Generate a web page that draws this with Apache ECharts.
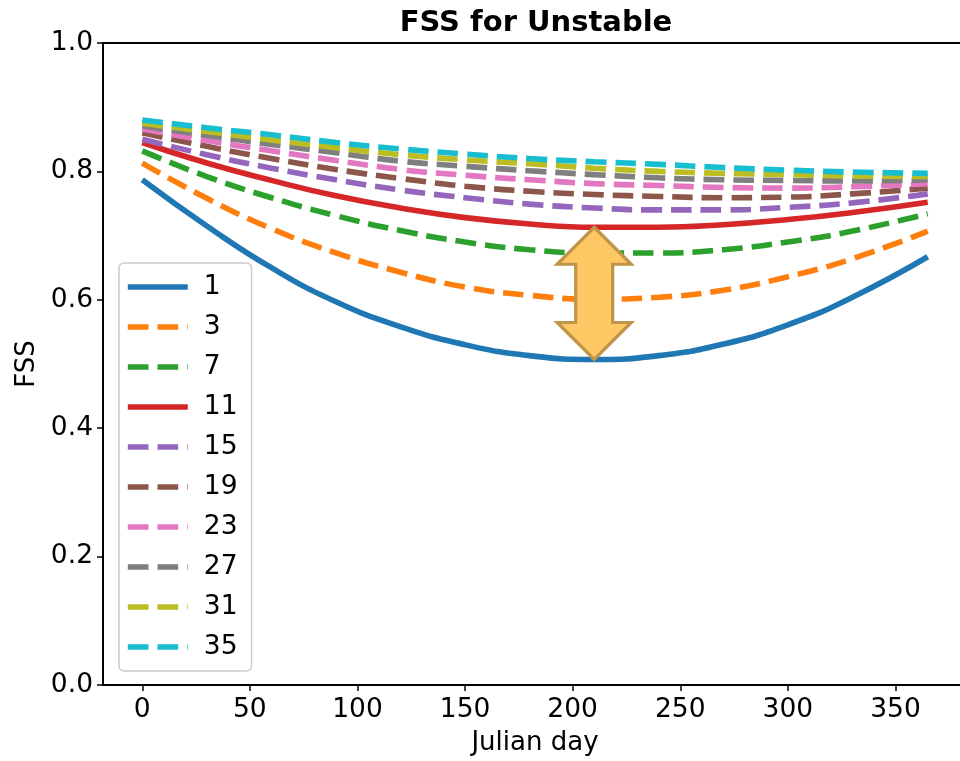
<!DOCTYPE html>
<html>
<head>
<meta charset="utf-8">
<script src="https://cdn.jsdelivr.net/npm/echarts@6/dist/echarts.min.js"></script>
<style>
  html, body { margin: 0; padding: 0; background: #fff; }
  #chart { width: 960px; height: 761px; }
</style>
</head>
<body>
<div id="chart"></div>
<script>
// Julian days at which each FSS curve is sampled
const days = [0, 30, 60, 90, 120, 150, 180, 210, 240, 270, 300, 330, 365];

// FSS per neighbourhood size (grid points)
const fss1  = [0.787, 0.715, 0.650, 0.597, 0.558, 0.530, 0.513, 0.507, 0.513, 0.531, 0.561, 0.604, 0.667];
const fss3  = [0.813, 0.758, 0.711, 0.673, 0.643, 0.620, 0.607, 0.601, 0.604, 0.615, 0.636, 0.664, 0.707];
const fss7  = [0.832, 0.792, 0.759, 0.731, 0.708, 0.690, 0.678, 0.673, 0.673, 0.678, 0.690, 0.707, 0.734];
const fss11 = [0.845, 0.813, 0.786, 0.762, 0.743, 0.728, 0.718, 0.713, 0.713, 0.717, 0.725, 0.736, 0.752];
const fss15 = [0.850, 0.826, 0.805, 0.787, 0.771, 0.759, 0.749, 0.743, 0.740, 0.740, 0.744, 0.751, 0.765];
const fss19 = [0.860, 0.839, 0.820, 0.803, 0.789, 0.777, 0.769, 0.764, 0.761, 0.759, 0.760, 0.765, 0.774];
const fss23 = [0.866, 0.848, 0.832, 0.817, 0.803, 0.794, 0.787, 0.781, 0.778, 0.775, 0.774, 0.776, 0.781];
const fss27 = [0.871, 0.856, 0.842, 0.829, 0.816, 0.808, 0.801, 0.795, 0.790, 0.787, 0.786, 0.785, 0.787];
const fss31 = [0.875, 0.862, 0.849, 0.837, 0.826, 0.818, 0.812, 0.805, 0.800, 0.797, 0.795, 0.793, 0.792];
const fss35 = [0.880, 0.868, 0.857, 0.845, 0.835, 0.827, 0.820, 0.815, 0.811, 0.806, 0.802, 0.799, 0.797];

const seriesNames = ['1', '3', '7', '11', '15', '19', '23', '27', '31', '35'];
const seriesValues = [fss1, fss3, fss7, fss11, fss15, fss19, fss23, fss27, fss31, fss35];
const solidSeries = ['1', '11'];

// Axis ticks
const xTicks = [0, 50, 100, 150, 200, 250, 300, 350];
const yTicks = [0.0, 0.2, 0.4, 0.6, 0.8, 1.0];

// Day at which the double arrow spans the gap between sizes 1 and 11
const arrowDay = 210;

const palette = ['#1f77b4', '#ff7f0e', '#2ca02c', '#d62728', '#9467bd',
                 '#8c564b', '#e377c2', '#7f7f7f', '#bcbd22', '#17becf'];
const FONT = 'DejaVu Sans';
const LW = 5.6;
const TICK_FS = 26.5;

const chart = echarts.init(document.getElementById('chart'), null, { renderer: 'canvas' });

const series = seriesNames.map((name, i) => ({
  name: name,
  type: 'line',
  data: days.map((d, k) => [d, seriesValues[i][k]]),
  smooth: true,
  symbol: 'none',
  showSymbol: false,
  animation: false,
  color: palette[i],
  lineStyle: {
    color: palette[i],
    width: LW,
    type: solidSeries.includes(name) ? 'solid' : [20.7, 9],
    cap: 'butt'
  },
  emphasis: { disabled: true },
  z: 2 + i * 0.01
}));

const option = {
  animation: false,
  backgroundColor: '#ffffff',
  textStyle: { fontFamily: FONT, color: '#000' },
  title: {
    text: 'FSS for Unstable',
    left: 531,
    textAlign: 'center',
    top: 4,
    textStyle: { fontFamily: FONT, fontWeight: 'bold', fontSize: 29, color: '#000' }
  },
  grid: {
    left: 103,
    top: 43,
    right: -7,
    bottom: 76,
    show: true,
    borderColor: '#000',
    borderWidth: 2,
    backgroundColor: 'transparent',
    containLabel: false,
    outerBoundsMode: 'none'
  },
  legend: {
    orient: 'vertical',
    left: 119,
    top: 263,
    data: seriesNames,
    itemWidth: 60,
    itemHeight: 14,
    itemGap: 12,
    itemTextGap: 15,
    padding: [10, 14, 10, 6],
    backgroundColor: 'rgba(255,255,255,0.8)',
    borderColor: '#cccccc',
    borderWidth: 1.5,
    borderRadius: 5,
    selectedMode: false,
    textStyle: {
      fontFamily: FONT,
      fontSize: TICK_FS,
      color: '#000',
      lineHeight: 28,
      padding: [0, 0, 0, 11]
    },
    itemStyle: { opacity: 0 },
    lineStyle: { width: LW }
  },
  xAxis: {
    type: 'value',
    min: -18.25,
    max: 383.25,
    name: 'Julian day',
    nameLocation: 'middle',
    nameGap: 45,
    nameTextStyle: { fontFamily: FONT, fontSize: 26, color: '#000' },
    splitLine: { show: false },
    axisLine: { show: true, onZero: false, lineStyle: { color: '#000', width: 2 } },
    axisTick: { show: true, length: 6, customValues: xTicks, lineStyle: { color: '#000', width: 1.5 } },
    axisLabel: { customValues: xTicks, margin: 12, fontFamily: FONT, fontSize: TICK_FS, color: '#000' }
  },
  yAxis: {
    type: 'value',
    min: 0,
    max: 1,
    interval: 0.2,
    name: 'FSS',
    nameLocation: 'middle',
    nameGap: 59,
    nameTextStyle: { fontFamily: FONT, fontSize: 26, color: '#000' },
    splitLine: { show: false },
    axisLine: { show: true, onZero: false, lineStyle: { color: '#000', width: 2 } },
    axisTick: { show: true, length: 6, customValues: yTicks, lineStyle: { color: '#000', width: 1.5 } },
    axisLabel: {
      customValues: yTicks,
      margin: 10,
      fontFamily: FONT,
      fontSize: TICK_FS,
      color: '#000',
      formatter: v => v.toFixed(1)
    }
  },
  series: series
};

chart.setOption(option);

// Double-headed arrow between the size-11 and size-1 curves
function drawArrow() {
  const k = days.indexOf(arrowDay);
  const top = chart.convertToPixel({ gridIndex: 0 }, [arrowDay, fss11[k]]);
  const bot = chart.convertToPixel({ gridIndex: 0 }, [arrowDay, fss1[k]]);
  const cx = top[0];
  const headH = 37, headW = 37, shaftW = 18.5;
  const y0 = top[1], y1 = bot[1];
  const pts = [
    [cx, y0],
    [cx + headW, y0 + headH],
    [cx + shaftW, y0 + headH],
    [cx + shaftW, y1 - headH],
    [cx + headW, y1 - headH],
    [cx, y1],
    [cx - headW, y1 - headH],
    [cx - shaftW, y1 - headH],
    [cx - shaftW, y0 + headH],
    [cx - headW, y0 + headH]
  ];
  chart.setOption({
    graphic: [{
      type: 'polygon',
      z: 100,
      shape: { points: pts },
      style: { fill: '#ffc864', stroke: '#bf954a', lineWidth: 3.2, lineJoin: 'miter' },
      silent: true
    }]
  });
}
drawArrow();
</script>
</body>
</html>
